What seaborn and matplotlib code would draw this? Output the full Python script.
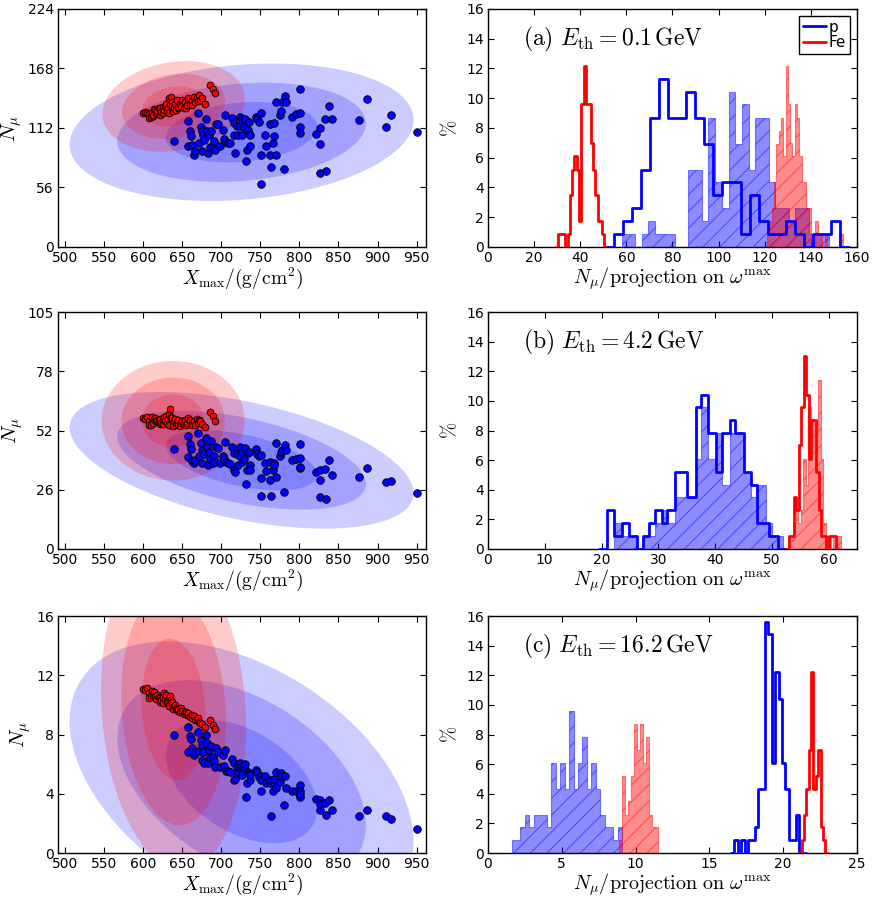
import numpy as np
import matplotlib
matplotlib.use("Agg")
import matplotlib.pyplot as plt
from matplotlib.patches import Ellipse
from matplotlib.lines import Line2D
from matplotlib.colors import to_rgba
import seaborn as sns

# ---------------- scatter data (same showers in all three panels) ----------------
p_xmax = [640, 657, 658, 660, 661.5, 663, 665, 666.7, 670, 672,
          674, 675, 675, 676, 678, 680, 681.5, 683, 684, 685.5,
          687, 689, 690.6, 692, 693, 696, 698, 701.7, 703, 705,
          705.6, 709, 711, 714, 715.7, 716, 717, 720, 721, 723.5,
          724, 726, 727, 728.6, 730, 731.6, 733, 734, 735, 736.6,
          736.6, 744.5, 745.8, 748, 751, 751, 751, 755.6, 757, 763,
          763, 764, 766, 767, 768, 769.7, 770.5, 775.7, 777, 778,
          780, 782, 782.9, 790, 796, 801, 801, 801, 801, 821,
          826, 826, 827, 833, 834, 838, 842, 876, 886, 911,
          916.7, 950]
p_nmu_a = [100, 95, 119, 109, 104, 96, 87, 90, 126, 98,
           113, 109, 90, 105, 101, 120, 109, 88, 105, 94,
           109, 94, 100, 91, 116, 116, 95, 110, 102, 124,
           99, 97.5, 97.5, 121, 105, 117, 88, 114, 105, 122,
           114, 120, 105, 113, 120, 81, 91, 110, 118, 105,
           95, 122, 120, 118, 126, 59, 87, 105, 95, 87,
           116, 75.5, 98, 104.5, 117, 86.5, 136, 124, 128, 136,
           73, 142, 136, 122, 125, 148.5, 126.5, 112.6, 107, 106,
           111.7, 70, 96.6, 120, 71.4, 133, 120, 119.5, 139, 112.6,
           124, 108.5]
p_nmu_b = [44.3, 40.6, 50.2, 46.5, 44.3, 39.0, 38.0, 39.5, 51.5, 41.0,
           46.8, 44.0, 38.0, 43.6, 42.0, 49.0, 45.4, 37.0, 43.0, 40.0,
           48.0, 38.0, 41.0, 38.5, 45.0, 44.6, 38.0, 41.0, 40.0, 47.6,
           38.7, 38.0, 37.5, 45.4, 35.0, 42.7, 34.3, 42.0, 37.0, 45.4,
           41.0, 43.0, 38.7, 40.0, 44.6, 28.9, 35.0, 42.4, 43.0, 37.0,
           34.8, 44.3, 42.0, 41.0, 41.5, 23.7, 31.4, 38.0, 34.6, 30.6,
           38.5, 23.3, 34.8, 38.0, 37.0, 32.1, 47.0, 41.0, 43.0, 44.0,
           25.2, 46.0, 44.0, 39.5, 39.8, 46.5, 40.5, 35.8, 36.5, 34.0,
           35.0, 23.0, 30.6, 35.3, 22.0, 39.5, 33.0, 31.8, 36.0, 29.9,
           30.2, 25.0]
p_nmu_c = [7.97, 6.85, 8.5, 7.9, 7.7, 7.1, 6.6, 6.85, 8.2, 6.9,
           7.6, 7.3, 6.3, 6.85, 6.06, 8.0, 7.4, 6.1, 6.96, 6.5,
           7.25, 6.46, 6.2, 5.83, 7.07, 6.8, 5.83, 6.6, 5.9, 6.96,
           5.57, 5.57, 5.5, 6.33, 4.94, 6.06, 5.0, 5.8, 5.43, 6.1,
           5.83, 5.9, 5.3, 5.83, 6.0, 3.75, 4.76, 5.5, 5.4, 4.94,
           5.27, 5.6, 5.5, 5.16, 5.23, 4.22, 4.94, 5.23, 4.7, 4.76,
           4.9, 2.51, 4.22, 4.76, 5.0, 4.4, 5.5, 4.8, 5.39, 5.2,
           3.25, 5.2, 4.38, 4.22, 4.22, 4.6, 4.22, 3.81, 4.0, 3.66,
           3.59, 2.9, 3.3, 3.37, 2.54, 3.59, 2.9, 2.5, 2.9, 2.51,
           2.29, 1.62]

fe_xmax = [600, 603, 605, 607, 608, 610, 611, 612, 613, 614,
           615, 617, 618, 620, 621, 622, 623, 625, 626, 627,
           628, 629, 630, 632, 632.5, 633, 635, 635.5, 637, 637.5,
           638, 639, 641, 642, 643, 644, 645, 647, 648, 650,
           652, 654, 655, 656, 657, 658, 660, 662, 663, 664.5,
           667, 669, 670, 671, 673, 675, 679.5, 685, 689, 692]
fe_nmu_a = [126.5, 126.8, 125.8, 124.9, 121.5, 122.0, 127.4, 123.5, 124.3, 129.5,
            129.0, 125.8, 128.0, 130.6, 124.0, 131.0, 127.4, 132.0, 126.0, 129.0,
            132.5, 135.0, 128.0, 130.6, 140.0, 126.5, 133.7, 141.6, 136.9, 133.0,
            128.0, 130.6, 135.0, 128.5, 138.4, 131.0, 132.0, 135.0, 133.0, 138.4,
            130.6, 136.9, 131.0, 133.7, 138.0, 140.0, 135.0, 137.5, 134.0, 141.6,
            136.9, 140.0, 137.0, 143.0, 138.4, 140.0, 135.0, 152.6, 148.8, 144.7]
fe_nmu_b = [57.9, 57.5, 58.3, 56.5, 55.0, 54.9, 58.5, 56.8, 56.0, 57.8,
            58.0, 56.5, 57.0, 57.2, 55.5, 57.5, 56.0, 57.0, 55.3, 58.5,
            56.5, 59.0, 56.0, 57.5, 60.0, 55.0, 61.9, 58.5, 57.0, 58.0,
            54.5, 56.5, 57.8, 55.0, 56.0, 55.5, 57.0, 54.5, 56.0, 56.5,
            55.5, 57.0, 54.8, 56.0, 57.5, 58.0, 57.0, 55.5, 55.0, 56.5,
            55.0, 57.5, 56.0, 57.0, 56.5, 55.5, 54.2, 60.5, 59.0, 56.8]
fe_nmu_c = [11.1, 11.0, 11.15, 10.8, 10.5, 10.6, 10.95, 10.75, 10.7, 10.9,
            10.6, 10.4, 10.65, 10.55, 10.2, 10.5, 10.3, 10.45, 10.1, 10.8,
            10.4, 10.7, 10.2, 10.35, 10.5, 9.9, 10.6, 10.3, 10.1, 10.2,
            9.7, 9.9, 10.0, 9.7, 9.8, 9.6, 9.7, 9.5, 9.8, 9.6,
            9.4, 9.5, 9.55, 9.3, 9.4, 9.45, 9.2, 9.1, 9.3, 9.25,
            9.0, 8.95, 9.1, 8.85, 8.8, 8.7, 8.5, 8.95, 8.64, 8.35]

# ---------------- confidence ellipses (68 / 95 / 99.7 % in 2D) ----------------
ellipse_scales = [1.515, 2.486, 3.439]
p_ell_mx = [726, 726, 726]
p_ell_my = [108, 39.3, 4.83]
p_ell_sx = [64, 64, 64]
p_ell_sy = [18.8, 8.8, 2.75]
p_ell_rho = [0.18, -0.48, -0.43]
fe_ell_mx = [639, 638.5, 639]
fe_ell_my = [132.3, 56.8, 9.7]
fe_ell_sx = [26.5, 26.6, 27.0]
fe_ell_sy = [12.4, 7.7, 3.15]
fe_ell_rho = [0.17, 0.0, -0.12]

# ---------------- histograms (percent per bin) ----------------
# panel (a)
a_p_step_edges = np.linspace(54.5, 152.75, 26)
a_p_step = [0.87, 1.74, 2.6, 5.2, 8.7, 11.3, 8.7, 8.7, 10.4, 8.7, 6.95, 3.5, 4.35,
            4.35, 0.87, 3.5, 1.74, 0.87, 0.87, 1.74, 0.87, 0, 0.87, 0.87, 1.74]
a_p_proj_edges = np.linspace(57.9, 147.8, 32)
a_p_proj = [0.87, 0.87, 0, 0.87, 1.74, 0.87, 0.87, 0.87, 0, 0, 5.2, 5.2, 1.74, 8.7,
            4.35, 2.6, 10.4, 6.95, 9.6, 5.2, 8.7, 8.7, 4.35, 2.6, 2.6, 1.74, 2.6,
            2.6, 0.87, 0.87, 0.87]
a_fe_step_edges = np.linspace(30.5, 50.5, 21)
a_fe_step = [0.87, 0.87, 0.87, 0, 0.87, 3.5, 5.2, 6.1, 5.2, 1.74, 9.6, 12.2, 9.6,
             9.6, 7.0, 5.2, 3.5, 1.74, 1.74, 0.87]
a_fe_proj_edges = np.linspace(121, 154, 34)
a_fe_proj = [0.87, 1.74, 2.6, 4.35, 6.95, 7.8, 8.7, 6.1, 12.2, 9.6, 7.0, 6.1, 9.6,
             8.7, 6.1, 4.35, 4.35, 2.6, 2.6, 0, 0, 1.74, 0.87, 0.87, 0, 0.87, 0,
             0, 0, 0, 0, 0.87, 0.87]
# panel (b)
b_p_step_edges = [20.9, 22.2, 23.6, 24.9, 26.2, 27.3, 28.3, 29.5, 30.7, 31.6, 33.0,
                  35.1, 36.6, 37.5, 38.8, 40.1, 41.3, 42.6, 43.5, 45.1, 46.3, 47.4,
                  49.5, 51.1]
b_p_step = [2.6, 0.87, 1.74, 0.87, 0, 0.87, 1.74, 2.6, 1.74, 2.6, 5.2, 3.5, 9.6,
            10.4, 7.8, 5.2, 7.8, 8.7, 7.8, 5.2, 4.35, 1.74, 0.87]
b_p_proj_edges = [22.2, 23.6, 24.9, 26.2, 27.3, 28.3, 29.5, 30.7, 31.6, 33.0, 35.1,
                  36.6, 37.5, 38.8, 40.1, 41.3, 42.6, 43.5, 45.1, 46.3, 47.4, 48.9,
                  50.1, 51.9]
b_p_proj = [1.74, 0.87, 0.87, 0, 0.87, 0.87, 1.74, 2.6, 1.74, 3.5, 3.5, 6.1, 9.6,
            6.1, 7.8, 4.35, 7.8, 7.8, 5.2, 3.5, 4.35, 1.74, 0.87]
b_fe_step_edges = np.linspace(53.0, 61.36, 20)
b_fe_step = [0.87, 0.87, 3.5, 2.6, 7.0, 9.6, 13.0, 10.4, 6.1, 8.7, 8.7, 5.2, 2.6,
             0.87, 0.87, 0, 0.87, 0.87, 0.87]
b_fe_proj_edges = np.linspace(53.3, 62.1, 21)
b_fe_proj = [0.87, 1.74, 2.6, 1.74, 2.6, 6.1, 4.35, 9.6, 6.95, 8.7, 7.8, 11.4, 6.1,
             1.74, 0.87, 0.87, 0, 0.87, 0.87, 0.87]
# panel (c)
c_p_step_edges = np.linspace(16.7, 21.3, 21)
c_p_step = [0.87, 0, 0.87, 0, 0.87, 0.87, 1.74, 4.35, 4.35, 15.6, 14.8, 6.1, 12.2,
            10.4, 6.1, 4.35, 0.87, 0.87, 2.6, 0]
c_p_proj_edges = np.linspace(1.6, 9.1, 26)
c_p_proj = [0.87, 0.87, 1.74, 2.6, 1.74, 2.6, 2.6, 2.6, 1.74, 6.1, 4.35, 6.1, 4.35,
            9.6, 4.35, 6.1, 7.8, 4.35, 6.1, 4.35, 2.6, 1.74, 1.74, 0.87, 1.74]
c_fe_step_edges = np.linspace(21.25, 22.85, 11)
c_fe_step = [0.87, 2.6, 4.35, 6.95, 12.2, 4.35, 5.2, 6.95, 1.74, 0.87]
c_fe_proj_edges = np.linspace(8.9, 11.5, 14)
c_fe_proj = [0.87, 5.2, 2.6, 3.5, 5.2, 8.7, 6.95, 8.7, 6.1, 7.8, 2.6, 1.74, 1.74]

panel_tags = ["a", "b", "c"]
thresholds = ["0.1", "4.2", "16.2"]
left_yticks = [[0, 56, 112, 168, 224], [0, 26.25, 52.5, 78.75, 105], [0, 4, 8, 12, 16]]
left_yticklabels = [["0", "56", "112", "168", "224"], ["0", "26", "52", "78", "105"],
                    ["0", "4", "8", "12", "16"]]
right_xmax = [160, 65, 25]
right_xticks = [np.arange(0, 161, 20), np.arange(0, 61, 10), np.arange(0, 26, 5)]

sns.set_style("ticks")
plt.rcParams.update({
    "font.family": ["DejaVu Sans"],
    "mathtext.fontset": "cm",
    "axes.edgecolor": "black",
    "axes.labelcolor": "black",
    "text.color": "black",
    "xtick.color": "black",
    "ytick.color": "black",
    "xtick.direction": "in",
    "ytick.direction": "in",
    "xtick.top": True,
    "ytick.right": True,
    "xtick.major.size": 4,
    "ytick.major.size": 4,
    "xtick.major.pad": 3,
    "ytick.major.pad": 3,
    "xtick.labelsize": 10,
    "ytick.labelsize": 10,
    "axes.linewidth": 1.0,
    "hatch.linewidth": 0.8,
})

BLUE = "#0000ff"
RED = "#ff0000"


def add_ellipses(ax, mx, my, sx, sy, rho, color):
    cov = np.array([[sx ** 2, rho * sx * sy], [rho * sx * sy, sy ** 2]])
    vals, vecs = np.linalg.eigh(cov)
    angle = np.degrees(np.arctan2(vecs[1, 1], vecs[0, 1]))
    for k in ellipse_scales:
        ax.add_patch(Ellipse((mx, my), 2 * k * np.sqrt(vals[1]), 2 * k * np.sqrt(vals[0]),
                             angle=angle, facecolor=color, alpha=0.2,
                             edgecolor="none", zorder=1))


def step_hist(ax, edges, heights, color):
    # pad with an empty bin each side so the outline drops to zero
    edges = np.asarray(edges, float)
    w = edges[1] - edges[0]
    e = np.r_[edges[0] - w, edges, edges[-1] + w]
    h = np.r_[0, heights, 0]
    centers = (e[:-1] + e[1:]) / 2
    sns.histplot(x=list(centers), weights=list(h), bins=list(e), element="step",
                 fill=False, color=color, linewidth=2, ax=ax, zorder=3)


def proj_hist(ax, edges, heights, color):
    edges = np.asarray(edges, float)
    centers = (edges[:-1] + edges[1:]) / 2
    sns.histplot(x=list(centers), weights=list(heights), bins=list(edges),
                 element="step", fill=True, color=color, alpha=0.45, hatch="//",
                 edgecolor=to_rgba(color, 0.45), linewidth=0.8, ax=ax, zorder=2)


scatter_p = [p_nmu_a, p_nmu_b, p_nmu_c]
scatter_fe = [fe_nmu_a, fe_nmu_b, fe_nmu_c]
hists = [
    (a_p_proj_edges, a_p_proj, a_p_step_edges, a_p_step,
     a_fe_proj_edges, a_fe_proj, a_fe_step_edges, a_fe_step),
    (b_p_proj_edges, b_p_proj, b_p_step_edges, b_p_step,
     b_fe_proj_edges, b_fe_proj, b_fe_step_edges, b_fe_step),
    (c_p_proj_edges, c_p_proj, c_p_step_edges, c_p_step,
     c_fe_proj_edges, c_fe_proj, c_fe_step_edges, c_fe_step),
]

fig = plt.figure(figsize=(8.77, 9.0), dpi=100)
bottoms = [0.7256, 0.390, 0.0522]
heights_ax = [0.2644, 0.2633, 0.2633]

for i in range(3):
    axl = fig.add_axes([0.0661, bottoms[i], 0.4196, heights_ax[i]])
    axr = fig.add_axes([0.5564, bottoms[i], 0.4208, heights_ax[i]])

    # left: Xmax vs N_mu scatter with confidence ellipses
    add_ellipses(axl, p_ell_mx[i], p_ell_my[i], p_ell_sx[i], p_ell_sy[i], p_ell_rho[i], BLUE)
    add_ellipses(axl, fe_ell_mx[i], fe_ell_my[i], fe_ell_sx[i], fe_ell_sy[i], fe_ell_rho[i], RED)
    sns.scatterplot(x=p_xmax, y=scatter_p[i], color=BLUE, edgecolor="black",
                    s=30, linewidth=0.6, ax=axl, zorder=3)
    sns.scatterplot(x=fe_xmax, y=scatter_fe[i], color=RED, edgecolor="black",
                    s=24, linewidth=0.6, ax=axl, zorder=4)
    axl.set_xlim(491, 962)
    axl.set_xticks(np.arange(500, 951, 50))
    axl.set_ylim(left_yticks[i][0], left_yticks[i][-1])
    axl.set_yticks(left_yticks[i])
    axl.set_yticklabels(left_yticklabels[i])
    axl.set_xlabel(r"$X_{\rm max}/({\rm g/cm^2})$", fontsize=14, labelpad=0)
    axl.set_ylabel(r"$N_\mu$", fontsize=15, labelpad=2)

    # right: histograms of N_mu and of the projection on omega^max
    pe, ph, se, sh, fpe, fph, fse, fsh = hists[i]
    proj_hist(axr, pe, ph, BLUE)
    step_hist(axr, se, sh, BLUE)
    proj_hist(axr, fpe, fph, RED)
    step_hist(axr, fse, fsh, RED)
    axr.set_xlim(0, right_xmax[i])
    axr.set_xticks(right_xticks[i])
    axr.set_ylim(0, 16)
    axr.set_yticks(np.arange(0, 17, 2))
    axr.set_xlabel(r"$N_\mu/{\rm projection\ on}\ \omega^{\rm max}$", fontsize=14.5, labelpad=0)
    axr.set_ylabel(r"$\%$", fontsize=14, labelpad=4)
    axr.text(0.095, 0.845,
             r"$({\rm %s})\ E_{\rm th}=%s\,{\rm GeV}$" % (panel_tags[i], thresholds[i]),
             transform=axr.transAxes, fontsize=17, va="baseline", ha="left")
    if i == 0:
        handles = [Line2D([], [], color=BLUE, lw=2), Line2D([], [], color=RED, lw=2)]
        leg = axr.legend(handles, ["p", "Fe"], loc="upper right", fontsize=11,
                         handlelength=1.5, handletextpad=0.2, labelspacing=0.05,
                         borderpad=0.25, borderaxespad=0.45, fancybox=False,
                         framealpha=1, edgecolor="black")
        leg.get_frame().set_linewidth(1.0)

fig.savefig("out.png", dpi=100)
